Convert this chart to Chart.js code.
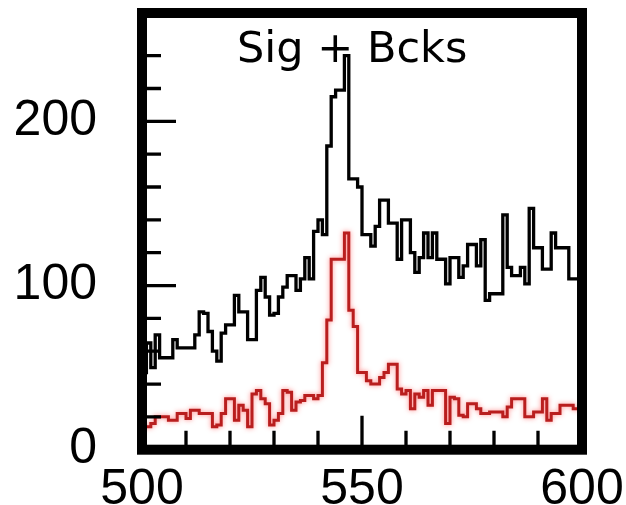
<!DOCTYPE html>
<html>
<head>
<meta charset="utf-8">
<script src="https://cdn.jsdelivr.net/npm/chart.js@4.4.1/dist/chart.umd.min.js"></script>
<style>
  html, body { margin: 0; padding: 0; background: #fff; }
  #wrap { width: 626px; height: 505px; }
</style>
</head>
<body>
<div id="wrap"><canvas id="chart"></canvas></div>
<script>
// histogram: 1 GeV bins from 500 to 600
const binStart = 500;
const binWidth = 1;
const titleText = "Sig + Bcks";
const xTickLabels = [500, 550, 600];
const yTickLabels = [0, 100, 200];

// signal + background (black)
const sigBcks = [
  44, 47, 65, 50, 70, 56, 56, 56, 67, 62,
  62, 62, 62, 70, 84, 83, 72, 60, 54, 71,
  76, 76, 94, 84, 84, 67, 67, 97, 105, 93,
  82, 83, 93, 99, 106, 106, 97, 104, 117, 104,
  133, 140, 131, 185, 215, 219, 219, 240, 165, 165,
  160, 131, 131, 124, 136, 152, 152, 138, 138, 116,
  140, 140, 120, 108, 117, 132, 117, 132, 116, 116,
  101, 117, 117, 105, 112, 125, 125, 112, 128, 91,
  95, 95, 95, 143, 111, 106, 106, 111, 101, 147,
  123, 123, 110, 110, 132, 123, 123, 123, 104, 104
];

// signal only (red)
const sigOnly = [
  12, 14, 14, 16, 20, 20, 20, 18, 18, 22,
  22, 19, 24, 24, 22, 22, 22, 14, 15, 22,
  31, 31, 18, 27, 24, 14, 34, 36, 31, 28,
  15, 18, 22, 36, 35, 24, 29, 30, 33, 33,
  31, 33, 53, 79, 116, 116, 116, 132, 85, 75,
  47, 47, 42, 40, 40, 44, 47, 52, 52, 37,
  34, 36, 25, 34, 32, 36, 27, 36, 36, 36,
  16, 32, 31, 21, 20, 28, 28, 25, 22, 22,
  23, 23, 23, 20, 26, 31, 31, 31, 20, 20,
  23, 23, 31, 18, 22, 22, 27, 27, 27, 25
];

function toSteps(values) {
  const pts = values.map((v, i) => ({ x: binStart + i * binWidth, y: v }));
  pts.push({ x: binStart + values.length * binWidth, y: values[values.length - 1] });
  return pts;
}

// keep the plot frame where the reference has it
function fixBox(size) {
  return s => {
    if (s.isHorizontal()) s.height = size; else s.width = size;
    s.paddingTop = 0;
    s.paddingBottom = 0;
    s.paddingLeft = 0;
    s.paddingRight = 0;
  };
}

const frameTicks = {
  id: "frameTicks",
  afterDatasetsDraw(chart) {
    const { ctx, chartArea: a, scales } = chart;
    ctx.save();
    ctx.strokeStyle = "#000";
    ctx.lineWidth = 3.3;
    ctx.beginPath();
    scales.y.ticks.forEach(t => {
      if (t.value % 20 !== 0) return;
      const y = scales.y.getPixelForValue(t.value);
      const len = t.value % 100 === 0 ? 34 : 19;
      ctx.moveTo(a.left, y);
      ctx.lineTo(a.left + len, y);
    });
    scales.x.ticks.forEach(t => {
      const x = scales.x.getPixelForValue(t.value);
      const len = t.value % 50 === 0 ? 34 : 19;
      ctx.moveTo(x, a.bottom);
      ctx.lineTo(x, a.bottom - len);
    });
    ctx.stroke();
    ctx.lineWidth = 10;
    ctx.strokeRect(a.left, a.top, a.right - a.left, a.bottom - a.top);
    ctx.fillStyle = "#000";
    ctx.font = "43px 'DejaVu Sans'";
    ctx.textAlign = "left";
    ctx.textBaseline = "alphabetic";
    ctx.fillText(titleText, 237, 62);
    ctx.restore();
  }
};

const glow = {
  id: "glow",
  beforeDatasetDraw(chart, args) {
    if (args.index !== 1) return;
    chart.ctx.save();
    chart.ctx.shadowColor = "rgba(255,40,40,0.55)";
    chart.ctx.shadowBlur = 5;
  },
  afterDatasetDraw(chart, args) {
    if (args.index !== 1) return;
    chart.ctx.restore();
  }
};

new Chart(document.getElementById("chart"), {
  type: "line",
  data: {
    datasets: [
      {
        label: "Sig + Bcks",
        data: toSteps(sigBcks),
        stepped: "after",
        borderColor: "#000",
        borderWidth: 3.3,
        pointRadius: 0,
        fill: false
      },
      {
        label: "Sig",
        data: toSteps(sigOnly),
        stepped: "after",
        borderColor: "rgb(185,30,30)",
        borderWidth: 3,
        pointRadius: 0,
        fill: false
      }
    ]
  },
  options: {
    responsive: true,
    maintainAspectRatio: false,
    animation: false,
    events: [],
    layout: { padding: { left: 0, right: 44, top: 13, bottom: 0 } },
    plugins: { legend: { display: false }, tooltip: { enabled: false } },
    scales: {
      x: {
        type: "linear",
        min: 500,
        max: 600,
        grid: { display: false, drawTicks: false },
        border: { display: false },
        ticks: {
          stepSize: 10,
          maxRotation: 0,
          autoSkip: false,
          padding: 11,
          color: "#000",
          font: { family: "'Liberation Sans'", size: 50 },
          callback: v => (xTickLabels.includes(v) ? String(v) : "")
        },
        afterFit: fixBox(55.3)
      },
      y: {
        min: 0,
        max: 266,
        grid: { display: false, drawTicks: false },
        border: { display: false },
        ticks: {
          stepSize: 20,
          autoSkip: false,
          padding: 45,
          color: "#000",
          font: { family: "'Liberation Sans'", size: 50 },
          callback: v => (yTickLabels.includes(v) ? String(v) : "")
        },
        afterFit: fixBox(142)
      }
    }
  },
  plugins: [glow, frameTicks]
});
</script>
</body>
</html>
